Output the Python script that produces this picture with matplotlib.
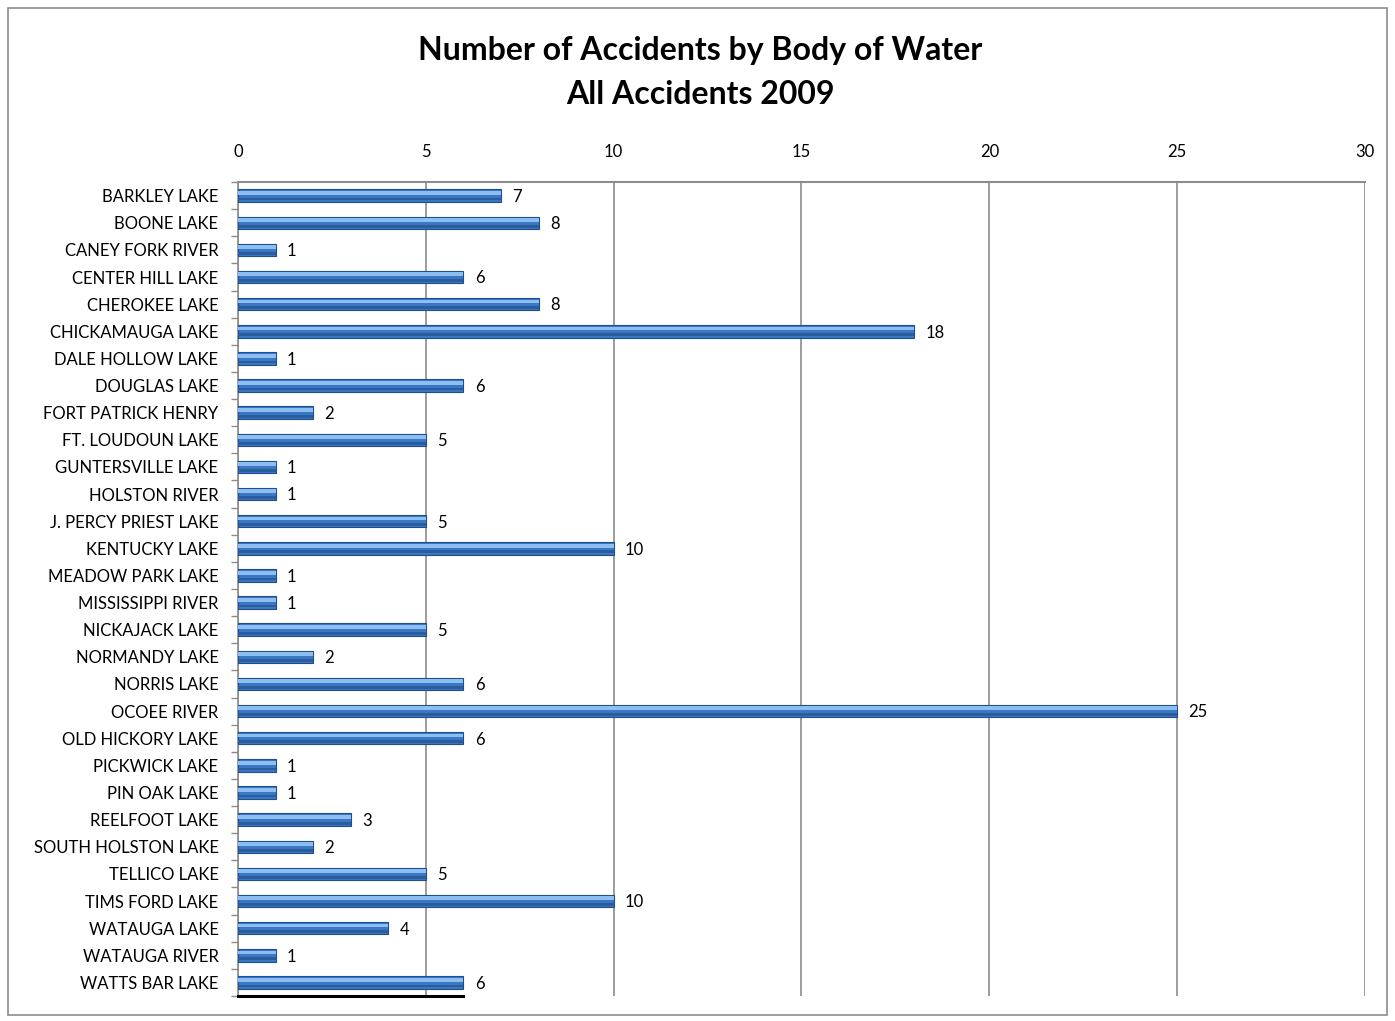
import matplotlib.pyplot as plt
import matplotlib.patches as mpatches
import numpy as np

lakes = ["BARKLEY LAKE", "BOONE LAKE", "CANEY FORK RIVER", "CENTER HILL LAKE",
         "CHEROKEE LAKE", "CHICKAMAUGA LAKE", "DALE HOLLOW LAKE", "DOUGLAS LAKE",
         "FORT PATRICK HENRY", "FT. LOUDOUN LAKE", "GUNTERSVILLE LAKE",
         "HOLSTON RIVER", "J. PERCY PRIEST LAKE", "KENTUCKY LAKE",
         "MEADOW PARK LAKE", "MISSISSIPPI RIVER", "NICKAJACK LAKE",
         "NORMANDY LAKE", "NORRIS LAKE", "OCOEE RIVER", "OLD HICKORY LAKE",
         "PICKWICK LAKE", "PIN OAK LAKE", "REELFOOT LAKE", "SOUTH HOLSTON LAKE",
         "TELLICO LAKE", "TIMS FORD LAKE", "WATAUGA LAKE", "WATAUGA RIVER",
         "WATTS BAR LAKE"]
accidents = [7, 8, 1, 6, 8, 18, 1, 6, 2, 5, 1, 1, 5, 10, 1, 1, 5, 2, 6, 25,
             6, 1, 1, 3, 2, 5, 10, 4, 1, 6]
x_ticks = [0, 5, 10, 15, 20, 25, 30]

plt.rcParams['font.family'] = ['Lato', 'DejaVu Sans']

fig = plt.figure(figsize=(13.95, 10.21), dpi=100)
fig.patches.append(mpatches.Rectangle((8 / 1395, 6 / 1021), 1379 / 1395, 1007 / 1021,
                                      transform=fig.transFigure, fill=False,
                                      edgecolor='#8c8c8c', linewidth=1.2))

ax = fig.add_axes([0.1706, 0.0245, 0.8079, 0.7972])
y = np.arange(len(lakes))

# base bar with darker edge, plus light stripe on top for the glossy look
ax.barh(y, accidents, height=0.46, color='#3B78C4', edgecolor='#1F4E8C',
        linewidth=0.8, zorder=3)
ax.barh(y - 0.1, accidents, height=0.14, color='#8CBEF2', linewidth=0, zorder=4)
ax.barh(y + 0.13, accidents, height=0.1, color='#2A5C9E', linewidth=0, zorder=4)

for yi, v in zip(y, accidents):
    ax.text(v + 0.3, yi + 0.05, str(v), va='center', ha='left', fontsize=12, zorder=5)

# dark underline below the last bar as in the original
ax.plot([0, accidents[-1]], [len(lakes) - 0.5, len(lakes) - 0.5], color='black',
        linewidth=2.2, zorder=5, clip_on=False)

ax.set_xlim(0, 30)
ax.set_ylim(len(lakes) - 0.5, -0.5)
ax.set_xticks(x_ticks)
ax.xaxis.tick_top()
ax.tick_params(axis='x', length=0, pad=16, labelsize=12)
ax.set_yticks(y)
ax.set_yticklabels(lakes, fontsize=12)
ax.tick_params(axis='y', length=0, pad=14)
ax.set_yticks(np.arange(-0.5, len(lakes), 1), minor=True)
ax.tick_params(axis='y', which='minor', length=5, color='#8c8c8c', width=1)
ax.grid(axis='x', color='#8c8c8c', linewidth=1.2, zorder=0)

for s in ['right', 'bottom']:
    ax.spines[s].set_visible(False)
ax.spines['top'].set_color('#8c8c8c')
ax.spines['top'].set_linewidth(1.5)
ax.spines['left'].set_color('#8c8c8c')
ax.spines['left'].set_linewidth(1.2)

fig.text(0.502, 0.951, "Number of Accidents by Body of Water", ha='center', va='center',
         fontsize=23, fontweight='bold')
fig.text(0.502, 0.907, "All Accidents 2009", ha='center', va='center',
         fontsize=23, fontweight='bold')

fig.savefig('out.png', dpi=100)
